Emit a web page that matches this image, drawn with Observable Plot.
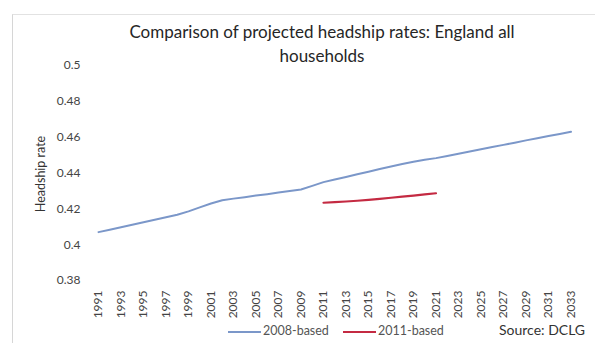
<!DOCTYPE html>
<html>
<head>
<meta charset="utf-8">
<script src="https://cdn.jsdelivr.net/npm/d3@7"></script>
<script src="https://cdn.jsdelivr.net/npm/@observablehq/plot@0.6"></script>
<style>
  html, body { margin: 0; padding: 0; background: #fff; }
  #wrap { position: relative; width: 595px; height: 343px; overflow: hidden; font-family: Lato, "Open Sans", sans-serif; }
  #frame { position: absolute; left: 12px; top: 14px; width: 600px; height: 400px; border-left: 1px solid #d6d6d6; border-top: 1px solid #e2e2e2; }
  #title { position: absolute; left: 117px; width: 410px; top: 20px; text-align: center; font-size: 17px; line-height: 24px; color: #262626; }
  #ytitle { position: absolute; left: 40px; top: 174px; transform: translate(-50%, -50%) rotate(-90deg); font-size: 12.5px; color: #333; white-space: nowrap; }
  .leg { position: absolute; top: 323px; font-size: 12.5px; color: #555; white-space: nowrap; }
  .sw { display: inline-block; width: 33px; height: 2px; vertical-align: middle; margin-right: 2px; }
  #source { position: absolute; left: 499px; top: 321px; font-size: 14px; color: #333; white-space: nowrap; }
  svg { position: absolute; left: 0; top: 0; }
</style>
</head>
<body>
<div id="wrap">
  <div id="frame"></div>
  <div id="chart"></div>
  <div id="title">Comparison of projected headship rates: England all households</div>
  <div id="ytitle">Headship rate</div>
  <div class="leg" style="left:228px"><span class="sw" style="background:#7b97c9"></span>2008-based</div>
  <div class="leg" style="left:343px"><span class="sw" style="background:#c42a42"></span>2011-based</div>
  <div id="source">Source: DCLG</div>
</div>
<script>
const years2008 = [1991,1992,1993,1994,1995,1996,1997,1998,1999,2000,2001,2002,2003,2004,2005,2006,2007,2008,2009,2010,2011,2012,2013,2014,2015,2016,2017,2018,2019,2020,2021,2022,2023,2024,2025,2026,2027,2028,2029,2030,2031,2032,2033];
const values2008 = [0.4070,0.4083,0.4097,0.4111,0.4125,0.4139,0.4153,0.4167,0.4186,0.4208,0.4230,0.4248,0.4257,0.4265,0.4274,0.4282,0.4291,0.4299,0.4308,0.4328,0.4349,0.4364,0.4378,0.4393,0.4407,0.4422,0.4436,0.4450,0.4463,0.4474,0.4483,0.4495,0.4508,0.4520,0.4532,0.4545,0.4557,0.4569,0.4582,0.4594,0.4606,0.4618,0.4630];
const years2011 = [2011,2012,2013,2014,2015,2016,2017,2018,2019,2020,2021];
const values2011 = [0.4234,0.4237,0.4241,0.4245,0.4250,0.4256,0.4262,0.4268,0.4274,0.4281,0.4287];
const xTickLabels = [1991,1993,1995,1997,1999,2001,2003,2005,2007,2009,2011,2013,2015,2017,2019,2021,2023,2025,2027,2029,2031,2033];
const yTickLabels = [0.38,0.40,0.42,0.44,0.46,0.48,0.50];

const d2008 = years2008.map((y, i) => ({year: y, value: values2008[i]}));
const d2011 = years2011.map((y, i) => ({year: y, value: values2011[i]}));

const chart = Plot.plot({
  width: 595,
  height: 343,
  marginLeft: 98,
  marginRight: 24.5,
  marginTop: 65,
  marginBottom: 63,
  style: {fontFamily: "Lato, 'Open Sans', sans-serif", fontSize: "12px", color: "#444", background: "transparent", overflow: "visible"},
  x: {domain: [1991, 2033]},
  y: {domain: [0.38, 0.5]},
  marks: [
    Plot.axisY({ticks: yTickLabels, tickSize: 0, tickPadding: 18, tickFormat: d => String(+d.toFixed(2)), label: null, fontSize: 12}),
    Plot.axisX({ticks: xTickLabels, tickSize: 0, tickPadding: 10, tickRotate: -90, tickFormat: d => String(d), label: null, fontSize: 12}),
    Plot.line(d2008, {x: "year", y: "value", stroke: "#7b97c9", strokeWidth: 2}),
    Plot.line(d2011, {x: "year", y: "value", stroke: "#c42a42", strokeWidth: 2.2})
  ]
});
document.getElementById("chart").appendChild(chart);
</script>
</body>
</html>
